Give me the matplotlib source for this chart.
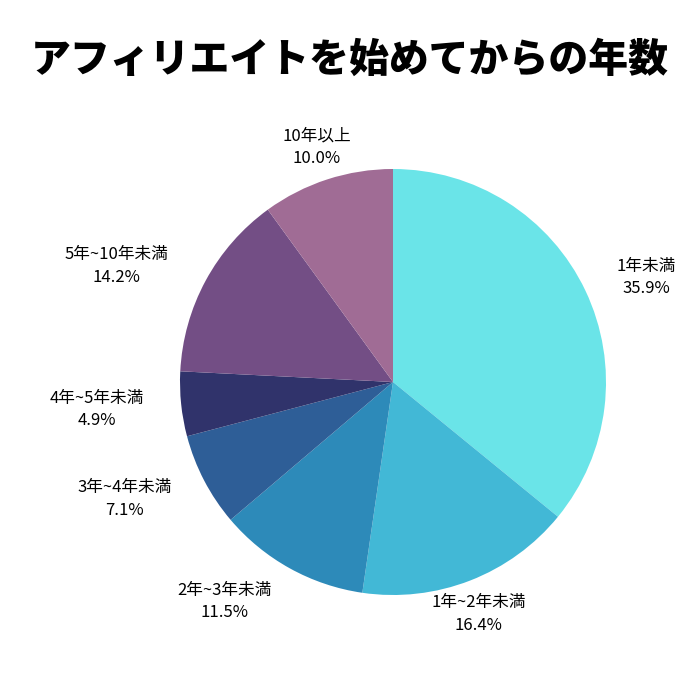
import matplotlib.pyplot as plt

plt.rcParams['font.family'] = ['Noto Sans CJK JP', 'DejaVu Sans']

labels = ["1年未満", "1年~2年未満", "2年~3年未満", "3年~4年未満", "4年~5年未満", "5年~10年未満", "10年以上"]
values = [35.9, 16.4, 11.5, 7.1, 4.9, 14.2, 10.0]
colors = ["#6AE4E8", "#42B8D6", "#2D8AB9", "#2E5E97", "#30336B", "#734E85", "#A06C95"]

# label centres in pie radius units (layout only)
label_xy = [(1.19, 0.49), (0.40, -1.09), (-0.79, -1.03), (-1.26, -0.55),
            (-1.39, -0.13), (-1.30, 0.545), (-0.36, 1.10)]

fig = plt.figure(figsize=(7, 7), dpi=100)
cx, cy, r = 393, 382, 213
ax = fig.add_axes([(cx - r) / 700, (700 - cy - r) / 700, 2 * r / 700, 2 * r / 700])

wedges, texts = ax.pie(values, colors=colors, startangle=90, counterclock=False,
                       labels=[f"{l}\n{v:.1f}%" for l, v in zip(labels, values)],
                       radius=1,
                       textprops=dict(fontsize=12, linespacing=1.42))
for t, xy in zip(texts, label_xy):
    t.set_position(xy)
    t.set_horizontalalignment('center')
    t.set_verticalalignment('center')
    t.set_multialignment('center')
ax.set_xlim(-1, 1)
ax.set_ylim(-1, 1)
ax.set_aspect('equal')
ax.axis('off')

fig.text(0.5, 1 - 60 / 700, "アフィリエイトを始めてからの年数", ha='center', va='center',
         fontsize=28.7, fontweight='black')

fig.savefig("out.png", dpi=100, facecolor='white')
